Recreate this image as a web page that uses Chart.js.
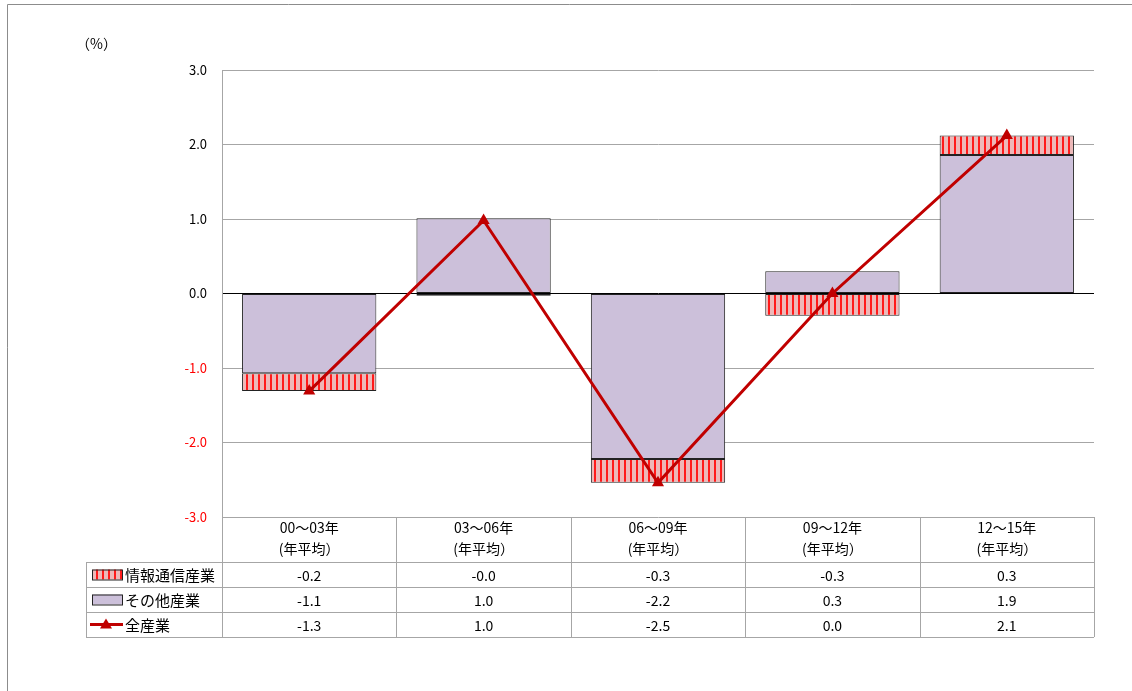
<!DOCTYPE html>
<html>
<head>
<meta charset="utf-8">
<script src="https://cdn.jsdelivr.net/npm/chart.js@4"></script>
<style>
  html, body { margin: 0; padding: 0; background: #fff; }
  #wrap { position: relative; width: 1132px; height: 691px; }
</style>
</head>
<body>
<div id="wrap"><canvas id="chart" width="1132" height="691"></canvas></div>
<script>
const periods = [['00〜03年', '(年平均）'], ['03〜06年', '(年平均）'], ['06〜09年', '(年平均）'], ['09〜12年', '(年平均）'], ['12〜15年', '(年平均）']];
const infoComm = [-0.24, -0.03, -0.32, -0.30, 0.26];
const otherInd = [-1.07, 1.01, -2.22, 0.30, 1.86];
const allInd = [-1.31, 0.98, -2.54, 0.00, 2.12];
const seriesNames = ['情報通信産業', 'その他産業', '全産業'];
const yTicks = [3, 2, 1, 0, -1, -2, -3];

const FONT = '"Noto Sans CJK JP", "Noto Sans", sans-serif';
const RED = '#C00000';
const LAVENDER = '#CCC0DA';

// vertical stripes for the info/comm bars
function stripePattern() {
  const c = document.createElement('canvas');
  c.width = 6; c.height = 6;
  const g = c.getContext('2d');
  g.fillStyle = '#EDB8B8';
  g.fillRect(0, 0, 6, 6);
  g.fillStyle = '#FF1A1A';
  g.fillRect(0, 0, 2, 6);
  return g.createPattern(c, 'repeat');
}
const stripes = stripePattern();

const HEADER_H = 45;
const ROW_H = 25;
const TABLE_LEFT = 86;

const tablePlugin = {
  id: 'dataTable',
  afterDraw(chart) {
    const ctx = chart.ctx;
    const area = chart.chartArea;
    const x = chart.scales.x;
    const top = area.bottom;
    const rowsTop = top + HEADER_H;
    const bottom = rowsTop + ROW_H * 3;

    ctx.save();
    // outer frame
    ctx.strokeStyle = '#8c8c8c';
    ctx.lineWidth = 1;
    ctx.beginPath();
    ctx.moveTo(7.5, 691);
    ctx.lineTo(7.5, 4.5);
    ctx.lineTo(1132, 4.5);
    ctx.stroke();

    // grid of the table
    ctx.strokeStyle = '#a6a6a6';
    ctx.beginPath();
    for (let r = 0; r <= 3; r++) {
      const y = Math.round(rowsTop + r * ROW_H) + 0.5;
      ctx.moveTo(TABLE_LEFT, y);
      ctx.lineTo(area.right, y);
    }
    ctx.moveTo(TABLE_LEFT + 0.5, rowsTop);
    ctx.lineTo(TABLE_LEFT + 0.5, bottom);
    const step = (area.right - area.left) / periods.length;
    for (let i = 0; i <= periods.length; i++) {
      const vx = Math.round(area.left + i * step) + 0.5;
      ctx.moveTo(vx, top);
      ctx.lineTo(vx, bottom);
    }
    ctx.stroke();

    // values
    const rows = [infoComm, otherInd, allInd];
    ctx.font = '14px ' + FONT;
    ctx.fillStyle = '#000';
    ctx.textAlign = 'center';
    ctx.textBaseline = 'middle';
    rows.forEach((vals, r) => {
      const cy = rowsTop + r * ROW_H + ROW_H / 2;
      vals.forEach((v, i) => {
        ctx.fillText(v.toFixed(1), x.getPixelForValue(i), cy + 1);
      });
    });

    // legend keys
    ctx.textAlign = 'left';
    ctx.font = '15px ' + FONT;
    rows.forEach((vals, r) => {
      const cy = rowsTop + r * ROW_H + ROW_H / 2;
      if (r < 2) {
        ctx.fillStyle = r === 0 ? stripes : LAVENDER;
        ctx.fillRect(92, cy - 5, 30, 10);
        ctx.strokeStyle = '#222';
        ctx.strokeRect(92.5, cy - 4.5, 30, 10);
      } else {
        ctx.strokeStyle = RED;
        ctx.lineWidth = 3;
        ctx.beginPath();
        ctx.moveTo(90, cy);
        ctx.lineTo(123, cy);
        ctx.stroke();
        ctx.fillStyle = RED;
        ctx.beginPath();
        ctx.moveTo(106, cy - 6);
        ctx.lineTo(112, cy + 4);
        ctx.lineTo(100, cy + 4);
        ctx.closePath();
        ctx.fill();
        ctx.lineWidth = 1;
      }
      ctx.fillStyle = '#000';
      ctx.fillText(seriesNames[r], 125, cy + 1);
    });

    // unit label
    ctx.font = '14px ' + FONT;
    ctx.fillText('（%）', 76, 44);
    ctx.restore();
  }
};

new Chart(document.getElementById('chart'), {
  data: {
    labels: periods,
    datasets: [
      {
        type: 'line', label: seriesNames[2], data: allInd, stack: 'line', order: 0,
        borderColor: RED, backgroundColor: RED, borderWidth: 3,
        pointStyle: 'triangle', pointRadius: 7, pointBorderWidth: 0
      },
      {
        type: 'bar', label: seriesNames[1], data: otherInd, stack: 'bar', order: 1,
        backgroundColor: LAVENDER, borderColor: '#222', borderWidth: 1, borderSkipped: false,
        barPercentage: 0.77, categoryPercentage: 1
      },
      {
        type: 'bar', label: seriesNames[0], data: infoComm, stack: 'bar', order: 1,
        backgroundColor: stripes, borderColor: '#222', borderWidth: 1, borderSkipped: false,
        barPercentage: 0.77, categoryPercentage: 1
      }
    ]
  },
  options: {
    responsive: false,
    animation: false,
    layout: { padding: { left: 0, right: 38, top: 70, bottom: 54 } },
    plugins: { legend: { display: false }, tooltip: { enabled: false } },
    scales: {
      x: {
        stacked: true,
        grid: { display: false, drawTicks: false },
        border: { display: false },
        ticks: { color: '#000', font: { family: FONT, size: 14, lineHeight: 1.45 }, padding: 1, maxRotation: 0 },
        afterFit(s) { s.height = HEADER_H + ROW_H * 3; }
      },
      y: {
        stacked: true,
        min: -3, max: 3,
        afterBuildTicks(s) { s.ticks = yTicks.map(v => ({ value: v })); },
        grid: {
          drawTicks: false,
          color: c => c.tick && c.tick.value === 0 ? '#000' : '#a6a6a6'
        },
        border: { color: '#a6a6a6' },
        ticks: {
          padding: 15,
          font: { family: FONT, size: 13 },
          color: c => c.tick.value < 0 ? '#FF0000' : '#000',
          callback: v => v.toFixed(1)
        },
        afterFit(s) { s.width = 222; }
      }
    }
  },
  plugins: [tablePlugin]
});
</script>
</body>
</html>
